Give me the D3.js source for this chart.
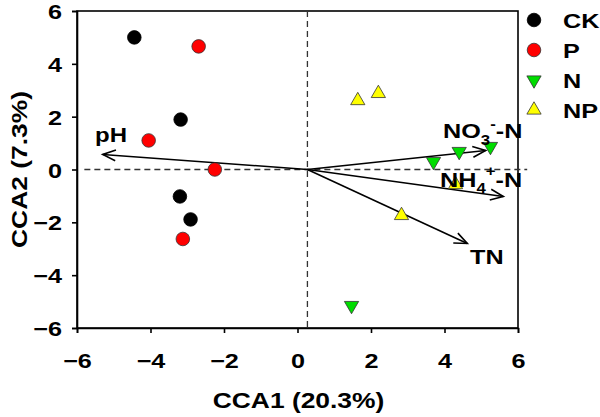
<!DOCTYPE html>
<html><head><meta charset="utf-8">
<script src="https://cdn.jsdelivr.net/npm/d3@7"></script>
<style>body{margin:0;background:#fff}text{font-family:"Liberation Sans",Arial,sans-serif;font-weight:bold;fill:#000}</style>
</head><body><svg id="c" width="600" height="417"></svg>
<script>
const groups = ["CK","P","N","NP"];
const groupColors = ["#000000","#ff0000","#00dd00","#ffff00"];
const ckX = [-4.44,-3.18,-3.2,-2.91], ckY = [5.0,1.89,-1.02,-1.89];
const pX = [-2.69,-4.05,-2.25,-3.12], pY = [4.66,1.1,0.0,-2.63];
const nX = [3.7,4.4,5.25,1.47], nY = [0.3,0.68,0.87,-5.15];
const npX = [1.64,2.2,4.3,2.83], npY = [2.61,2.88,-0.57,-1.74];
const envNames = ["pH","NO3-N","NH4-N","TN"];
const envX = [-5.3,5.12,5.6,4.62], envY = [0.57,0.72,-1.02,-2.8];
const originX = 0.27, originY = 0;
const xTicks = [-6,-4,-2,0,2,4,6], yTicks = [-6,-4,-2,0,2,4,6];

const SX = 1.2; // horizontal stretch of the bold lettering
const svg = d3.select("#c");
const L=77,R=518,T=11,B=328;
const x = d3.scaleLinear().domain([-6,6]).range([L,R]);
const y = d3.scaleLinear().domain([-6,6]).range([B,T]);

function label(px,py,size,str,anchor,rot){
  return svg.append("text")
    .attr("transform",`translate(${px},${py})${rot?` rotate(${rot})`:""} scale(${SX},1)`)
    .attr("font-size",size).attr("text-anchor",anchor||"start").text(str);
}

// frame
svg.append("rect").attr("x",L).attr("y",T).attr("width",R-L).attr("height",B-T)
  .attr("fill","none").attr("stroke","#000").attr("stroke-width",1.6);
// axes
const xa = svg.append("g").attr("transform",`translate(0,${B})`)
  .call(d3.axisBottom(x).tickValues(xTicks).tickSize(5).tickFormat(d3.format("d")));
const ya = svg.append("g").attr("transform",`translate(${L},0)`)
  .call(d3.axisLeft(y).tickValues(yTicks).tickSize(5).tickFormat(d3.format("d")));
[xa,ya].forEach(a=>{
  a.select(".domain").attr("stroke","#000").attr("stroke-width",1.6);
  a.selectAll(".tick line").attr("stroke","#000").attr("stroke-width",1.6);
  a.selectAll("text").attr("font-size",21).attr("font-family","Liberation Sans, Arial, sans-serif")
    .attr("font-weight","bold").attr("fill","#000");
});
xa.selectAll("text").attr("x",0).attr("y",0).attr("dy",0).attr("transform",`translate(0,40) scale(${SX},1)`);
ya.selectAll("text").attr("x",0).attr("dy","0.36em").attr("transform",`translate(-15,0) scale(${SX},1)`);

// dashed reference lines
svg.append("line").attr("x1",x(-5.8)).attr("x2",x(6.25)).attr("y1",y(0)).attr("y2",y(0))
  .attr("stroke","#333").attr("stroke-width",1.3).attr("stroke-dasharray","6,4");
svg.append("line").attr("x1",x(originX)).attr("x2",x(originX)).attr("y1",T).attr("y2",B)
  .attr("stroke","#333").attr("stroke-width",1.3).attr("stroke-dasharray","6,4");

// axis titles
label((L+R)/2+1,408,22,"CCA1 (20.3%)","middle");
label(27,(T+B)/2,22,"CCA2 (7.3%)","middle",-90);

// arrows
function arrow(x2,y2){
  const x1=x(originX), y1=y(originY), X=x(x2), Y=y(y2);
  const a=Math.atan2(Y-y1,X-x1), len=14, sp=0.4;
  svg.append("line").attr("x1",x1).attr("y1",y1).attr("x2",X).attr("y2",Y).attr("stroke","#000").attr("stroke-width",1.6);
  svg.append("path").attr("d",`M${X-len*Math.cos(a-sp)},${Y-len*Math.sin(a-sp)}L${X},${Y}L${X-len*Math.cos(a+sp)},${Y-len*Math.sin(a+sp)}`)
    .attr("fill","none").attr("stroke","#000").attr("stroke-width",1.6);
}
envNames.forEach((n,i)=>arrow(envX[i],envY[i]));

// points
const series=[[ckX,ckY],[pX,pY],[nX,nY],[npX,npY]];
const sym=[d3.symbolCircle,d3.symbolCircle,d3.symbolTriangle,d3.symbolTriangle];
const symSize=[145,145,88,88];
const rot=[0,0,180,0];
function drawSym(gi,cx,cy){
  svg.append("path").attr("d",d3.symbol().type(sym[gi]).size(symSize[gi])())
    .attr("transform",`translate(${cx},${cy}) rotate(${rot[gi]})`)
    .attr("fill",groupColors[gi]).attr("stroke",gi===0?"#000":"#333").attr("stroke-width",0.8);
}
series.forEach((s,gi)=>{
  s[0].forEach((vx,j)=>drawSym(gi,x(vx),y(s[1][j])));
});

// env labels
label(95,142,20,envNames[0]);
const no3=label(443,138,21,"");
no3.append("tspan").text("NO");
no3.append("tspan").attr("font-size",14).attr("dy",7).text("3");
no3.append("tspan").attr("font-size",14).attr("dy",-16).text("-");
no3.append("tspan").attr("dy",9).text("-N");
const nh4=label(440,187,21,"");
nh4.append("tspan").text("NH");
nh4.append("tspan").attr("font-size",14).attr("dy",6).text("4");
nh4.append("tspan").attr("font-size",14).attr("dy",-17).text("+");
nh4.append("tspan").attr("dy",11).text("-N");
label(470,264,21,envNames[3]);

// legend
const ly=[20,50,80,110];
groups.forEach((g,i)=>{
  drawSym(i,534,ly[i]);
  label(563,ly[i],21,g).attr("dy","0.36em");
});
</script></body></html>
